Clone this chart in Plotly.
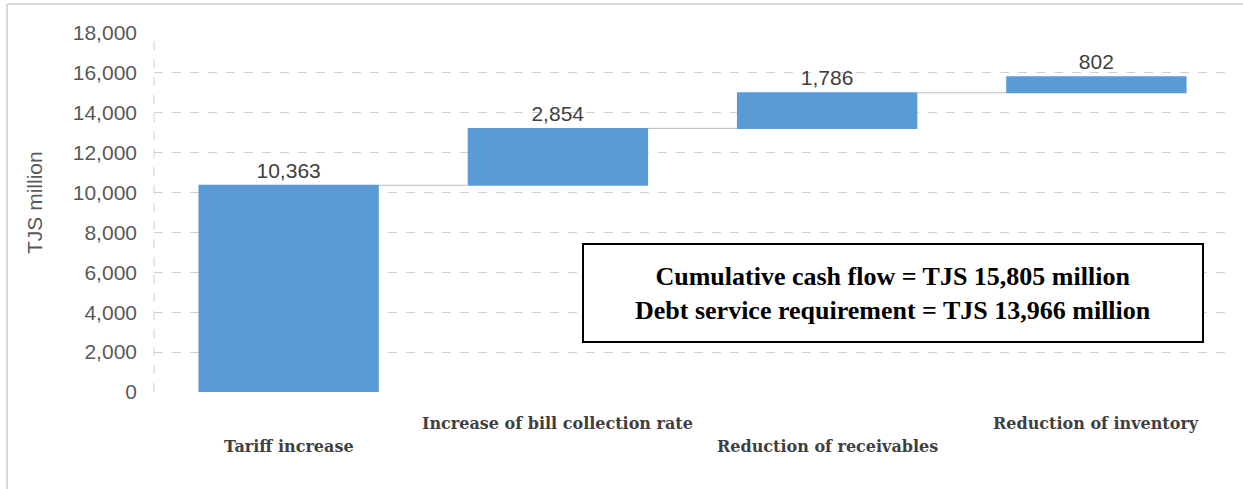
import plotly.graph_objects as go

categories = ["Tariff increase", "Increase of bill collection rate",
              "Reduction of receivables", "Reduction of inventory"]
values = [10363, 2854, 1786, 802]
value_labels = ["10,363", "2,854", "1,786", "802"]
y_ticks = list(range(0, 18001, 2000))
box_lines = ["Cumulative cash flow = TJS 15,805 million",
             "Debt service requirement = TJS 13,966 million"]

W, H = 1243, 489
L, R, T, B = 154, 12, 33, 97
PW, PH = W - L - R, H - T - B


def px(x):
    return (x - L) / PW


def py(y):
    return (H - B - y) / PH


fig = go.Figure(go.Waterfall(
    x=categories,
    y=values,
    measure=["relative"] * len(values),
    text=value_labels,
    textposition="outside",
    textfont=dict(family="Liberation Sans", size=21, color="#404040"),
    increasing=dict(marker=dict(color="#5B9BD5", line=dict(width=0))),
    connector=dict(line=dict(color="#BFBFBF", width=1)),
    width=0.67,
    cliponaxis=False,
    hoverinfo="skip",
))

annotations = []
for i, c in enumerate(categories):
    ypix = 447 if i % 2 == 0 else 423
    annotations.append(dict(
        x=c, xref="x", y=py(ypix), yref="paper", text=c, showarrow=False,
        xanchor="center", yanchor="middle",
        font=dict(family="DejaVu Serif", size=16, color="#3F3F3F", weight="bold"),
    ))

annotations.append(dict(
    x=px(893), xref="paper", y=py(293), yref="paper",
    text="<br>".join(f"<b>{s}</b>" for s in box_lines), showarrow=False,
    xanchor="center", yanchor="middle", align="center",
    font=dict(family="Liberation Serif", size=26, color="#000000"),
))

annotations.append(dict(
    x=px(35), xref="paper", y=py(203), yref="paper", text="TJS million",
    textangle=-90, showarrow=False, xanchor="center", yanchor="middle",
    font=dict(family="Liberation Sans", size=21, color="#595959"),
))

shapes = [
    dict(type="rect", xref="paper", yref="paper", x0=px(583), x1=px(1203),
         y0=py(342), y1=py(244), line=dict(color="#000000", width=2),
         fillcolor="white", layer="above"),
    dict(type="line", xref="paper", yref="paper", x0=0, x1=0, y0=0, y1=1,
         line=dict(color="#D0D0D0", width=1, dash="dash")),
    dict(type="line", xref="paper", yref="paper", x0=px(7), x1=px(1243),
         y0=py(4), y1=py(4), line=dict(color="#D9D9D9", width=2)),
    dict(type="line", xref="paper", yref="paper", x0=px(7), x1=px(7),
         y0=py(4), y1=py(489), line=dict(color="#D9D9D9", width=2)),
]

fig.update_layout(
    width=W, height=H,
    margin=dict(l=L, r=R, t=T, b=B, pad=0),
    paper_bgcolor="white", plot_bgcolor="white",
    showlegend=False,
    annotations=annotations,
    shapes=shapes,
    xaxis=dict(showticklabels=False, showgrid=False, zeroline=False,
               showline=False, ticks=""),
    yaxis=dict(range=[0, 18000], tickvals=y_ticks, tickformat=",",
               showgrid=True, gridcolor="#D0D0D0", griddash="dash", gridwidth=1,
               zeroline=False, showline=False, ticks="",
               ticklabelstandoff=16,
               tickfont=dict(family="Liberation Sans", size=21, color="#595959")),
)

fig.write_html("out.html")
